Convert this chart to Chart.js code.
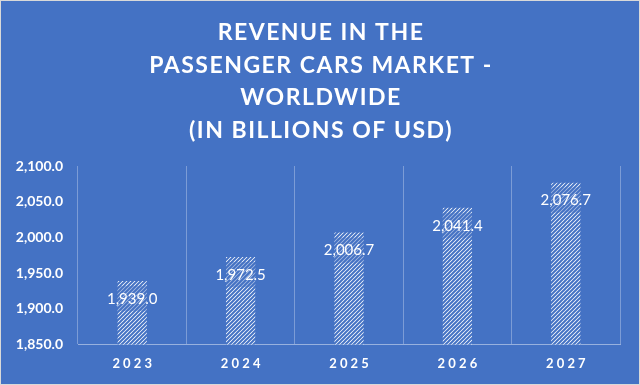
<!DOCTYPE html>
<html>
<head>
<meta charset="utf-8">
<script src="https://cdn.jsdelivr.net/npm/chart.js@4.4.0/dist/chart.umd.min.js"></script>
<style>
  html, body { margin: 0; padding: 0; background: #4472c4; }
  #wrap { width: 638px; height: 383px; border: 1px solid #d9d9d9; background: #4472c4; }
</style>
</head>
<body>
<div id="wrap"><canvas id="chart" width="638" height="383"></canvas></div>
<script>
const years = ['2023', '2024', '2025', '2026', '2027']
const revenue = [1939.0, 1972.5, 2006.7, 2041.4, 2076.7]
const titleLines = ['REVENUE IN THE', 'PASSENGER CARS MARKET -', 'WORLDWIDE', '(IN BILLIONS OF USD)']
const yMin = 1850
const yMax = 2100
const yStep = 50

const blue = '#4472c4'

function makeHatch() {
  const c = document.createElement('canvas')
  c.width = 4
  c.height = 4
  const g = c.getContext('2d')
  g.fillStyle = '#ffffff'
  g.fillRect(0, 0, 4, 4)
  g.strokeStyle = blue
  g.lineWidth = 2
  g.beginPath()
  g.moveTo(-1, 5); g.lineTo(5, -1)
  g.moveTo(-1, 1); g.lineTo(1, -1)
  g.moveTo(3, 5); g.lineTo(5, 3)
  g.stroke()
  return g.createPattern(c, 'repeat')
}

const fmt = v => v.toLocaleString('en-US', { minimumFractionDigits: 1, maximumFractionDigits: 1 })

// spaced-out title, drawn by hand so letterSpacing works
const spacedTitle = {
  id: 'spacedTitle',
  afterDraw(chart) {
    const ctx = chart.ctx
    ctx.save()
    ctx.fillStyle = '#ffffff'
    ctx.font = 'bold 23px Lato'
    ctx.letterSpacing = '1.5px'
    ctx.textAlign = 'center'
    ctx.textBaseline = 'alphabetic'
    titleLines.forEach((line, i) => {
      ctx.fillText(line, chart.width / 2 + 1, 39 + i * 32.5)
    })
    ctx.restore()
  }
}

// labels sitting just under the bar top, on a tinted box
const barLabels = {
  id: 'barLabels',
  afterDatasetsDraw(chart) {
    const ctx = chart.ctx
    const meta = chart.getDatasetMeta(0)
    ctx.save()
    meta.data.forEach((bar, i) => {
      const w = bar.width
      ctx.fillStyle = 'rgba(68, 114, 196, 0.45)'
      ctx.fillRect(bar.x - w / 2, bar.y + 5, w, 25)
      ctx.fillStyle = '#ffffff'
      ctx.font = '15px Lato'
      ctx.textAlign = 'center'
      ctx.textBaseline = 'middle'
      ctx.fillText(fmt(revenue[i]), bar.x, bar.y + 18)
    })
    ctx.restore()
  }
}

new Chart(document.getElementById('chart'), {
  type: 'bar',
  data: {
    labels: years,
    datasets: [{
      data: revenue,
      backgroundColor: makeHatch(),
      borderWidth: 0,
      categoryPercentage: 1,
      barPercentage: 0.27
    }]
  },
  plugins: [barLabels, spacedTitle],
  options: {
    responsive: false,
    animation: false,
    layout: { padding: { left: 0, right: 19, top: 165, bottom: 0 } },
    plugins: {
      legend: { display: false },
      tooltip: { enabled: false },
      title: { display: false }
    },
    scales: {
      x: {
        grid: { color: 'rgba(255,255,255,0.3)', drawTicks: false, offset: true },
        border: { color: 'rgba(255,255,255,0.45)' },
        ticks: {
          color: '#ffffff',
          font: { family: 'Lato', size: 13, weight: 'bold' },
          padding: 12,
          callback: (v, i) => years[i].split('').join(' ')
        }
      },
      y: {
        min: yMin,
        max: yMax,
        grid: { display: false },
        border: { display: false },
        afterFit: s => { s.width = 77 },
        ticks: {
          stepSize: yStep,
          color: '#ffffff',
          padding: 7,
          font: { family: 'Lato', size: 14, weight: 'bold' },
          callback: v => fmt(v)
        }
      }
    }
  }
})
</script>
</body>
</html>
